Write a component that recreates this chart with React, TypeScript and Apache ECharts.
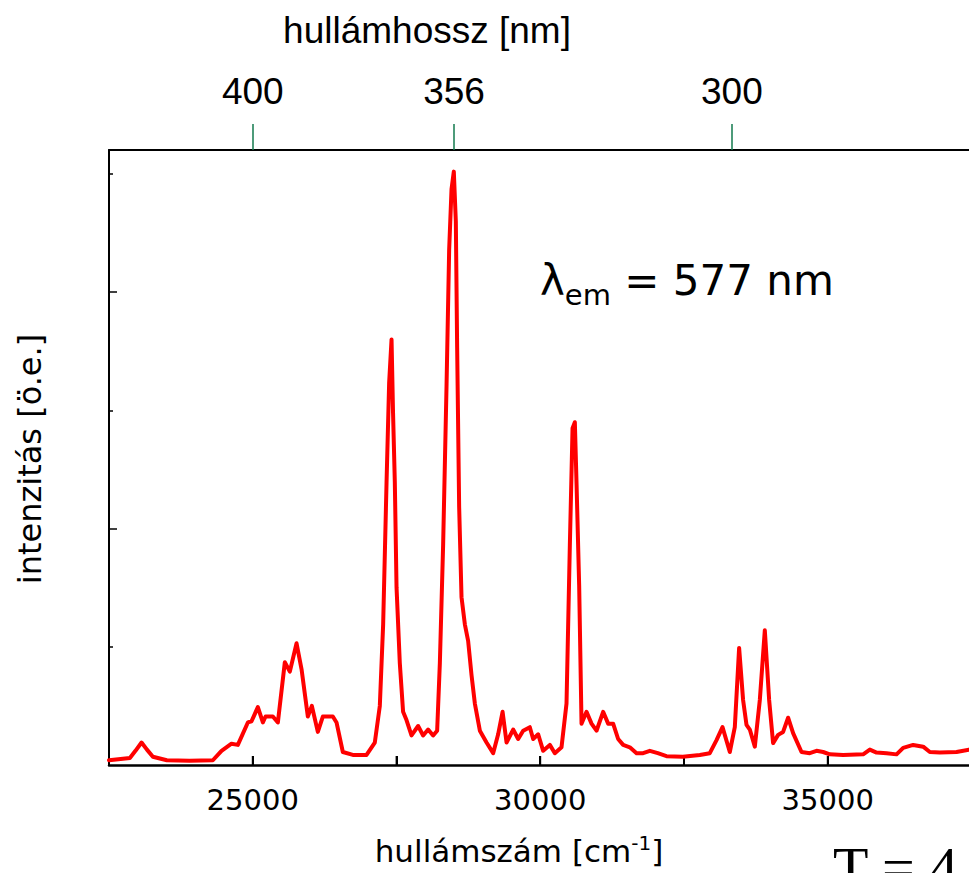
import React, { useEffect, useRef } from "react";
import * as echarts from "echarts";

// Wavenumber (cm^-1) and intensity (arb. units)
const wavenumber = [
  22500, 22863, 22960, 23066, 23160, 23263, 23506, 23900, 24306, 24457, 24631, 24741,
  24915, 24979, 25089, 25176, 25223, 25350, 25437, 25558, 25645, 25762, 25849, 25958,
  26028, 26132, 26219, 26393, 26457, 26567, 26741, 26979, 27123, 27210, 27268, 27327,
  27372, 27414, 27440, 27471, 27501, 27558, 27615, 27674, 27761, 27876, 27963, 28050,
  28137, 28207, 28254, 28311, 28370, 28416, 28457, 28497, 28532, 28555, 28590, 28631,
  28689, 28746, 28805, 28863, 28950, 29066, 29181, 29268, 29345, 29414, 29529, 29616,
  29703, 29819, 29877, 29964, 30051, 30167, 30254, 30370, 30457, 30515, 30562, 30602,
  30632, 30677, 30718, 30805, 30892, 30979, 31094, 31181, 31268, 31355, 31442, 31558,
  31675, 31790, 31906, 32045, 32196, 32480, 32775, 32949, 33066, 33170, 33297, 33384,
  33459, 33528, 33587, 33645, 33732, 33819, 33906, 33981, 34050, 34137, 34224, 34311,
  34398, 34544, 34688, 34805, 34920, 35036, 35268, 35616, 35732, 35849, 36023, 36197,
  36312, 36486, 36660, 36776, 36950, 37240, 37457,
];
const intensity = [
  0.04, 0.06, 0.12, 0.19, 0.13, 0.07, 0.04, 0.035, 0.04, 0.12, 0.18, 0.17,
  0.36, 0.37, 0.49, 0.36, 0.41, 0.41, 0.36, 0.87, 0.79, 1.03, 0.81, 0.41,
  0.5, 0.28, 0.41, 0.41, 0.36, 0.11, 0.085, 0.085, 0.19, 0.5, 1.19, 2.39,
  3.23, 3.6, 2.98, 2.39, 1.5, 0.86, 0.45, 0.38, 0.25, 0.33, 0.25, 0.3,
  0.25, 0.29, 0.86, 1.86, 3.2, 4.36, 4.87, 5.02, 4.6, 3.53, 2.18, 1.42,
  1.19, 1.05, 0.76, 0.52, 0.29, 0.19, 0.1, 0.26, 0.45, 0.19, 0.3, 0.22,
  0.29, 0.32, 0.22, 0.26, 0.12, 0.17, 0.1, 0.15, 0.52, 1.86, 2.85, 2.9,
  2.37, 1.52, 0.35, 0.45, 0.35, 0.29, 0.45, 0.35, 0.35, 0.22, 0.17, 0.15,
  0.1, 0.1, 0.12, 0.1, 0.075, 0.07, 0.085, 0.1, 0.21, 0.32, 0.11, 0.32,
  0.99, 0.55, 0.34, 0.3, 0.155, 0.55, 1.14, 0.55, 0.185, 0.255, 0.28, 0.4,
  0.27, 0.11, 0.1, 0.12, 0.11, 0.09, 0.085, 0.09, 0.13, 0.105, 0.1, 0.09,
  0.145, 0.17, 0.155, 0.11, 0.105, 0.11, 0.13,
];

// Axis ticks / labels
const bottomTickValues = [25000, 27500, 30000, 32500, 35000];
const bottomLabelValues = [25000, 30000, 35000];
const topTickValues = [25000, 28500, 33333];
const topTickLabels = ["400", "356", "300"];
const yMinorTicks = [1, 3, 5];
const yMajorTicks = [2, 4];

const X_MIN = 22500;
const X_MAX = 37457;
const Y_MIN = 0;
const Y_MAX = 5.203;

const SANS = "DejaVu Sans";
const ARIAL = "Liberation Sans";

export default function App() {
  const ref = useRef<HTMLDivElement>(null);

  useEffect(() => {
    if (!ref.current) return;
    const chart = echarts.init(ref.current, null, { renderer: "svg" });
    const data = wavenumber.map((w, i) => [w, intensity[i]]);
    const tickMarks = bottomTickValues.map((v) => [v, Y_MIN]);

    const topLabel = (v: number) => {
      let best = 0;
      let d = Infinity;
      topTickValues.forEach((t, i) => {
        if (Math.abs(t - v) < d) {
          d = Math.abs(t - v);
          best = i;
        }
      });
      return topTickLabels[best];
    };

    chart.setOption({
      animation: false,
      grid: { left: 109, right: 0, top: 150, bottom: 108 },
      xAxis: [
        {
          // bottom axis: line + labels + inward ticks
          type: "value",
          position: "bottom",
          min: X_MIN,
          max: X_MAX,
          axisLine: { show: true, onZero: false, lineStyle: { color: "#000", width: 2.5 } },
          axisTick: {
            show: true,
            inside: true,
            length: 9,
            customValues: bottomTickValues,
            lineStyle: { color: "#000", width: 2 },
          },
          axisLabel: {
            show: true,
            customValues: bottomLabelValues,
            formatter: (v: number) => String(v),
            fontFamily: SANS,
            fontSize: 29,
            color: "#000",
            margin: 20,
          },
          splitLine: { show: false },
        },
        {
          // top axis: wavelength ticks
          type: "value",
          position: "top",
          min: X_MIN,
          max: X_MAX,
          axisLine: { show: true, onZero: false, lineStyle: { color: "#000", width: 2 } },
          axisTick: {
            show: true,
            inside: false,
            length: 26,
            customValues: topTickValues,
            lineStyle: { color: "#137a4e", width: 1.5 },
          },
          axisLabel: {
            show: true,
            customValues: topTickValues,
            formatter: (v: number) => topLabel(v),
            fontFamily: ARIAL,
            fontSize: 37,
            color: "#000",
            margin: 40,
          },
          splitLine: { show: false },
        },
      ],
      yAxis: [
        {
          type: "value",
          position: "left",
          min: Y_MIN,
          max: Y_MAX,
          axisLine: { show: true, onZero: false, lineStyle: { color: "#000", width: 2 } },
          axisTick: {
            show: true,
            inside: true,
            length: 4,
            customValues: yMinorTicks,
            lineStyle: { color: "#000", width: 1.5 },
          },
          axisLabel: { show: false },
          splitLine: { show: false },
        },
        {
          type: "value",
          position: "left",
          min: Y_MIN,
          max: Y_MAX,
          axisLine: { show: false, onZero: false },
          axisTick: {
            show: true,
            inside: true,
            length: 8,
            customValues: yMajorTicks,
            lineStyle: { color: "#000", width: 1.5 },
          },
          axisLabel: { show: false },
          splitLine: { show: false },
        },
      ],
      series: [
        {
          // inward tick marks on the wavenumber axis
          type: "scatter",
          xAxisIndex: 0,
          yAxisIndex: 0,
          data: tickMarks,
          symbol: "rect",
          symbolSize: [2, 9],
          symbolOffset: [0, -4.5],
          itemStyle: { color: "#000" },
          clip: false,
          silent: true,
        },
        {
          type: "line",
          xAxisIndex: 0,
          yAxisIndex: 0,
          data,
          showSymbol: false,
          symbol: "none",
          lineStyle: { color: "#ff0000", width: 4, join: "round", cap: "round" },
          itemStyle: { color: "#ff0000" },
        },
      ],
      graphic: [
        {
          type: "text",
          x: 427,
          y: 30,
          style: {
            text: "hullámhossz [nm]",
            fontFamily: ARIAL,
            fontSize: 37,
            fill: "#000",
            align: "center",
            verticalAlign: "middle",
            textAlign: "center",
            textVerticalAlign: "middle",
          },
        },
        {
          type: "text",
          x: 519,
          y: 851,
          style: {
            text: "{a|hullámszám [cm}{s|-1}{a|]}",
            fill: "#000",
            align: "center",
            verticalAlign: "middle",
            textAlign: "center",
            textVerticalAlign: "middle",
            rich: {
              a: { fontFamily: SANS, fontSize: 31, lineHeight: 36, fill: "#000" },
              s: { fontFamily: SANS, fontSize: 20, lineHeight: 20, verticalAlign: "top", fill: "#000" },
            },
          },
        },
        {
          type: "text",
          x: 30,
          y: 459,
          rotation: Math.PI / 2,
          style: {
            text: "intenzitás [ö.e.]",
            fontFamily: SANS,
            fontSize: 32,
            fill: "#000",
            align: "center",
            verticalAlign: "middle",
            textAlign: "center",
            textVerticalAlign: "middle",
          },
        },
        {
          type: "text",
          x: 540,
          y: 280,
          style: {
            text: "{l|λ}{s|em}{l| = 577 nm}",
            fill: "#000",
            align: "left",
            verticalAlign: "middle",
            textAlign: "left",
            textVerticalAlign: "middle",
            rich: {
              l: { fontFamily: SANS, fontSize: 42, lineHeight: 58, fill: "#000" },
              s: { fontFamily: SANS, fontSize: 29, lineHeight: 29, verticalAlign: "bottom", fill: "#000" },
            },
          },
        },
        {
          type: "text",
          x: 833,
          y: 867,
          style: {
            text: "T = 4",
            fontFamily: "Liberation Serif",
            fontSize: 58,
            fill: "#000",
            align: "left",
            verticalAlign: "middle",
            textAlign: "left",
            textVerticalAlign: "middle",
          },
        },
      ],
    });
    return () => chart.dispose();
  }, []);

  return (
    <div
      ref={ref}
      style={{ position: "absolute", left: 0, top: 0, width: 969, height: 873, overflow: "hidden", background: "#fff" }}
    />
  );
}
